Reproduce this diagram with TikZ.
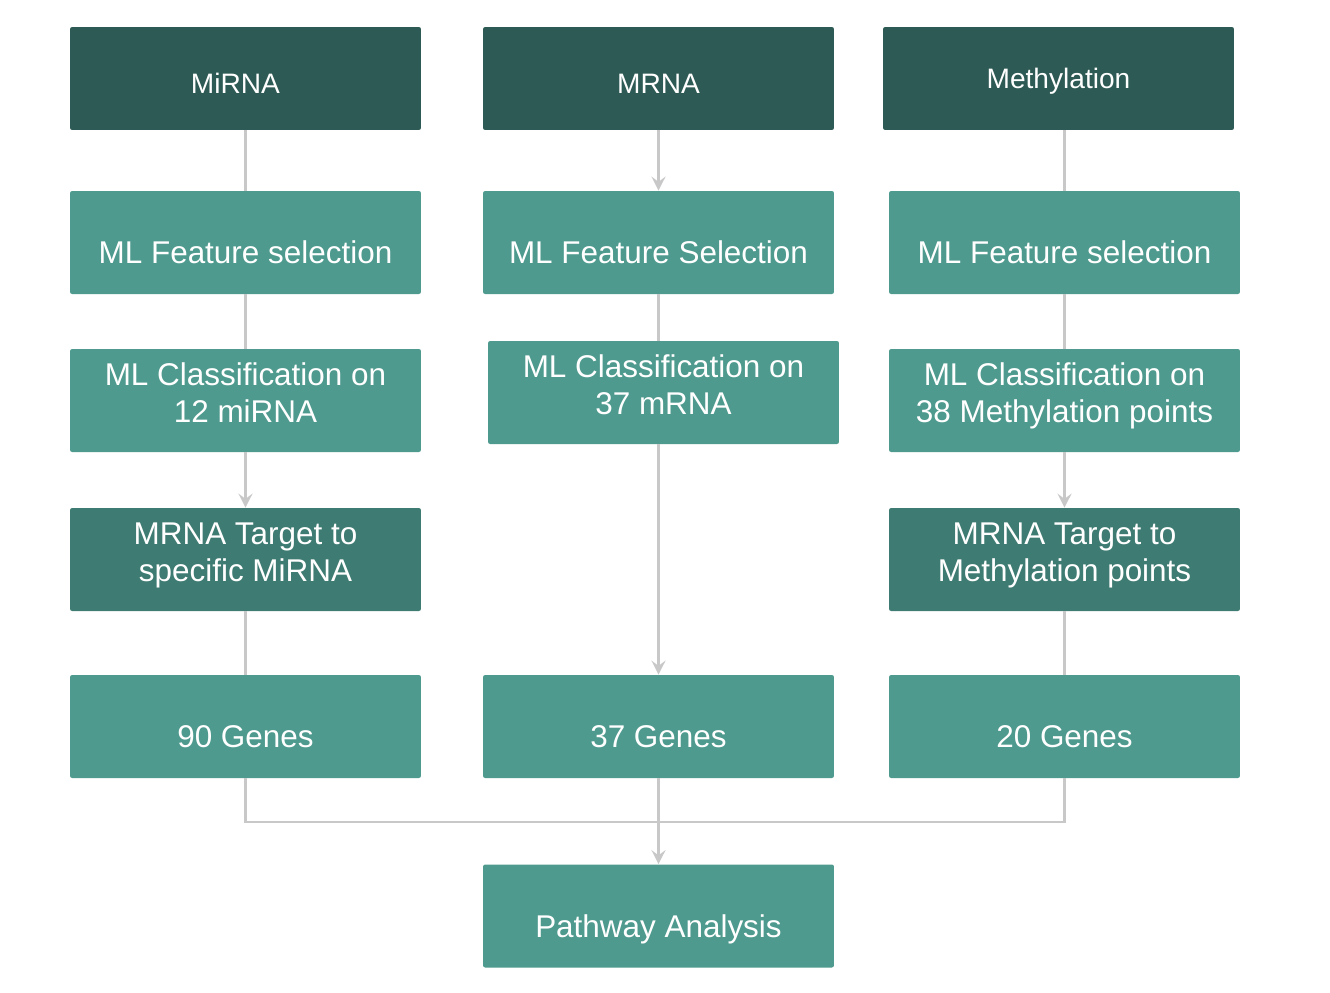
\documentclass[tikz,border=0pt]{standalone}
\usepackage{fontspec}
\setmainfont{Liberation Sans}
\usepackage{tikz}
\usetikzlibrary{arrows.meta,
  calc,
  positioning
}
\definecolor{headgreen}{RGB}{45,90,84}
\definecolor{stepgreen}{RGB}{78,154,142}
\definecolor{targetgreen}{RGB}{62,123,114}
\definecolor{linegray}{RGB}{200,200,200}
\tikzstyle{box} = [rectangle, rounded corners=1.2pt, minimum width=7.02cm,
  minimum height=2.06cm, inner sep=0pt, text=white, align=center,
  font=\fontsize{17.9}{21}\selectfont]
\tikzstyle{headbox} = [box, fill=headgreen, font=\fontsize{16}{19}\selectfont,
  text height=17.5pt, text depth=0pt]
\tikzstyle{stepbox} = [box, fill=stepgreen, text height=24pt, text depth=0pt]
\tikzstyle{twobox} = [box, fill=stepgreen, text height=33.5pt, text depth=9pt]
\tikzstyle{targetbox} = [twobox, fill=targetgreen]
\tikzstyle{link} = [line width=1.4pt, draw=linegray]
\tikzstyle{arr} = [link, -{Stealth[length=8pt, width=8pt, inset=3pt]}]

\begin{document}
\begin{tikzpicture}[x=0.02cm, y=-0.02cm]
  \useasboundingbox (0, 0) rectangle (1330, 992);

  % miRNA column
  \node[headbox] (head1) at (245.5, 78.5) {MiRNA\hspace*{0.4cm}};
  \node[stepbox] (fs1) at (245.5, 242.5) {ML Feature selection};
  \node[twobox] (cls1) at (245.5, 400.5) {ML Classification on\\12 miRNA};
  \node[targetbox] (tgt1) at (245.5, 559.5) {MRNA Target to\\specific MiRNA};
  \node[stepbox] (gen1) at (245.5, 726.5) {90 Genes};

  % mRNA column
  \node[headbox] (head2) at (658.5, 78.5) {MRNA};
  \node[stepbox] (fs2) at (658.5, 242.5) {ML Feature Selection};
  \node[twobox] (cls2) at (663.5, 392.5) {ML Classification on\\37 mRNA};
  \node[stepbox] (gen2) at (658.5, 726.5) {37 Genes};

  % methylation column
  \node[headbox, text height=11.5pt] (head3) at (1058.5, 78.5) {Methylation};
  \node[stepbox] (fs3) at (1064.5, 242.5) {ML Feature selection};
  \node[twobox] (cls3) at (1064.5, 400.5) {ML Classification on\\38 Methylation points};
  \node[targetbox] (tgt3) at (1064.5, 559.5) {MRNA Target to\\Methylation points};
  \node[stepbox] (gen3) at (1064.5, 726.5) {20 Genes};

  \node[stepbox] (path) at (658.5, 916) {Pathway Analysis};

  \draw[link] (head1.south) -- (fs1.north);
  \draw[link] (fs1.south) -- (cls1.north);
  \draw[arr] (cls1.south) -- (tgt1.north);
  \draw[link] (tgt1.south) -- (gen1.north);

  \draw[arr] (head2.south) -- (fs2.north);
  \draw[link] (fs2.south) -- (cls2.north -| fs2.south);
  \draw[arr] (cls2.south -| gen2.north) -- (gen2.north);

  \draw[link] (head3.south -| fs3.north) -- (fs3.north);
  \draw[link] (fs3.south) -- (cls3.north);
  \draw[arr] (cls3.south) -- (tgt3.north);
  \draw[link] (tgt3.south) -- (gen3.north);

  \coordinate (join) at (658.5, 822);
  \draw[link] (gen1.south) |- (join) -| (gen3.south);
  \draw[arr] (gen2.south) -- (path.north);
\end{tikzpicture}
\end{document}
